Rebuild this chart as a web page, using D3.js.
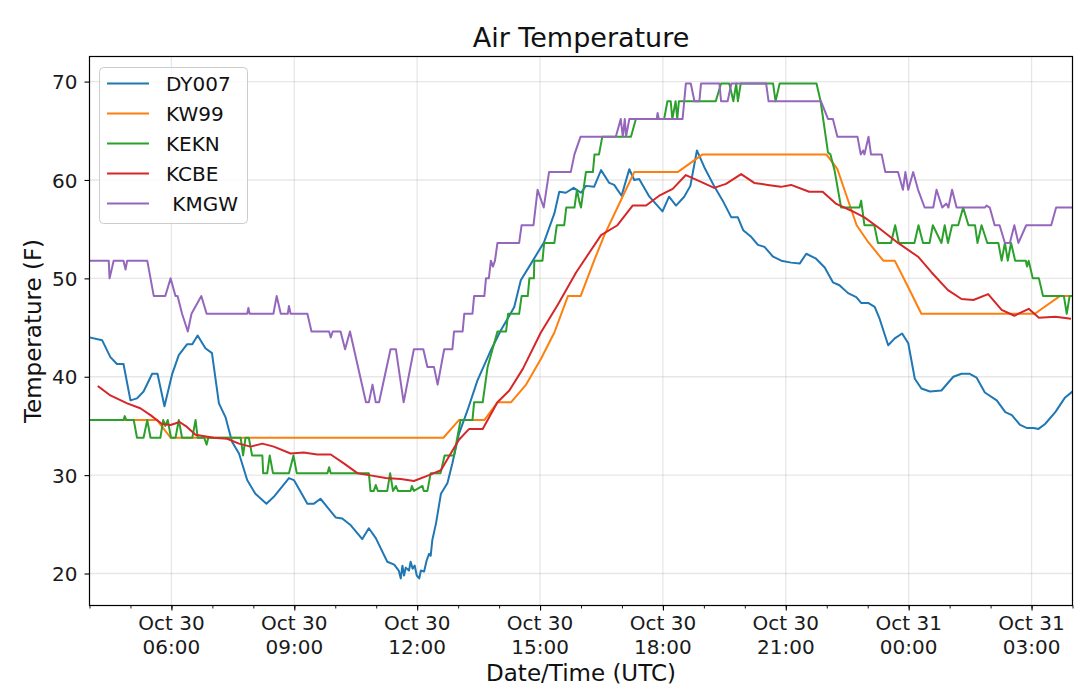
<!DOCTYPE html>
<html>
<head>
<meta charset="utf-8">
<script src="https://cdn.jsdelivr.net/npm/d3@7"></script>
<style>
  html, body { margin: 0; padding: 0; background: #fff; }
  svg { display: block; font-family: "DejaVu Sans", sans-serif; }
</style>
</head>
<body>
<svg id="chart" width="1080" height="700"></svg>
<script>
// ---- DATA (time = hours since 2018-10-30 00:00 UTC, value = °F) ----
const stations = ["DY007", "KW99", "KEKN", "KCBE", " KMGW"];
const yTicks = [20, 30, 40, 50, 60, 70];
const xStartHour = 4, xEndHour = 28;

const DY007 = [[4.00,44.0],[4.31,43.7],[4.51,42.0],[4.67,41.3],[4.83,41.3],[5.00,37.6],[5.16,37.8],[5.32,38.5],[5.53,40.3],[5.66,40.3],[5.83,37.0],[6.02,40.3],[6.18,42.2],[6.38,43.3],[6.51,43.3],[6.64,44.2],[6.83,42.9],[6.99,42.4],[7.16,37.3],[7.32,35.9],[7.48,33.4],[7.65,32.2],[7.85,29.5],[8.05,28.1],[8.32,27.1],[8.50,27.8],[8.87,29.7],[8.99,29.5],[9.32,27.1],[9.48,27.1],[9.64,27.6],[10.01,25.7],[10.17,25.6],[10.38,24.9],[10.66,23.5],[10.82,24.6],[10.99,23.6],[11.27,21.2],[11.44,20.9],[11.55,20.3],[11.60,19.5],[11.64,20.8],[11.68,19.8],[11.72,20.6],[11.80,20.3],[11.84,21.2],[11.89,20.5],[11.94,20.8],[11.99,19.8],[12.05,19.5],[12.09,20.3],[12.17,20.2],[12.23,21.3],[12.29,22.0],[12.33,21.8],[12.37,23.4],[12.46,25.1],[12.58,28.1],[12.74,29.2],[12.86,31.2],[13.02,34.2],[13.23,36.6],[13.47,39.6],[13.80,42.7],[14.04,44.7],[14.25,46.2],[14.37,47.1],[14.53,49.8],[14.78,51.5],[15.10,53.7],[15.35,56.6],[15.47,58.8],[15.63,58.7],[15.82,59.2],[16.00,58.7],[16.12,59.4],[16.32,59.3],[16.49,61.0],[16.69,59.7],[16.81,59.5],[16.99,58.4],[17.18,61.1],[17.30,60.0],[17.42,60.1],[17.67,58.3],[17.99,56.8],[18.15,58.3],[18.32,57.4],[18.52,58.3],[18.67,59.4],[18.83,63.0],[19.01,61.3],[19.26,59.3],[19.46,57.9],[19.67,56.2],[19.83,56.2],[19.96,54.9],[20.16,54.2],[20.32,53.4],[20.48,53.2],[20.69,52.2],[20.89,51.8],[21.13,51.6],[21.34,51.5],[21.50,52.5],[21.74,52.0],[21.95,51.1],[22.15,49.6],[22.31,49.3],[22.52,48.5],[22.72,48.1],[22.84,47.5],[23.01,47.5],[23.17,47.1],[23.29,45.9],[23.50,43.2],[23.66,43.9],[23.84,44.4],[23.99,43.4],[24.15,39.8],[24.31,38.8],[24.52,38.5],[24.80,38.6],[25.09,40.0],[25.29,40.3],[25.49,40.3],[25.66,39.9],[25.86,38.4],[26.15,37.6],[26.36,36.4],[26.52,36.1],[26.72,35.1],[26.88,34.8],[27.05,34.8],[27.17,34.7],[27.33,35.2],[27.58,36.4],[27.82,37.9],[28.00,38.5]];

const KW99 = [[4.00,35.6],[5.65,35.6],[5.98,33.8],[12.64,33.8],[13.02,35.6],[13.64,35.6],[13.96,37.4],[14.29,37.4],[14.66,39.2],[15.02,41.8],[15.35,44.5],[15.68,48.2],[15.99,48.2],[16.32,51.8],[16.57,54.4],[16.89,57.2],[17.30,60.8],[18.36,60.8],[18.97,62.6],[21.99,62.6],[22.26,61.1],[22.44,58.9],[22.73,55.4],[23.01,53.7],[23.38,51.8],[23.66,51.8],[23.99,49.1],[24.31,46.4],[27.08,46.4],[27.69,48.2],[28.00,48.2]];

const KEKN = [[4.00,35.6],[4.83,35.6],[4.86,36.0],[4.90,35.6],[5.08,35.6],[5.16,33.8],[5.32,33.8],[5.41,35.6],[5.49,33.8],[5.73,33.8],[5.80,35.6],[5.85,35.0],[5.91,35.6],[5.99,33.8],[6.10,33.8],[6.18,35.6],[6.26,33.8],[6.51,33.8],[6.59,35.6],[6.64,33.8],[6.80,33.8],[6.86,33.1],[6.90,33.8],[7.69,33.8],[7.75,32.0],[7.81,33.8],[7.89,33.8],[7.97,32.0],[8.22,32.0],[8.24,30.2],[8.34,30.2],[8.40,32.0],[8.48,30.2],[8.87,30.2],[8.98,32.0],[9.06,30.2],[9.81,30.2],[9.85,30.8],[9.89,30.2],[10.82,30.2],[10.86,28.4],[10.94,28.4],[10.99,29.0],[11.04,28.4],[11.27,28.4],[11.34,30.2],[11.41,28.4],[11.48,28.9],[11.53,28.4],[11.84,28.4],[11.87,28.9],[11.92,28.4],[12.13,28.9],[12.16,28.4],[12.25,28.4],[12.33,30.2],[12.57,30.2],[12.67,32.0],[12.90,32.0],[13.06,35.6],[13.35,35.6],[13.39,37.4],[13.60,37.4],[13.72,41.0],[13.96,44.6],[14.17,44.6],[14.22,46.4],[14.49,46.4],[14.55,48.2],[14.70,48.2],[14.74,50.0],[14.85,50.0],[14.86,51.8],[15.06,51.8],[15.10,53.6],[15.35,53.6],[15.41,55.4],[15.59,55.4],[15.64,57.2],[15.84,57.2],[15.90,59.0],[15.96,57.8],[16.00,57.2],[16.12,60.8],[16.29,60.8],[16.33,62.6],[16.44,62.6],[16.52,64.4],[17.22,64.4],[17.34,66.2],[18.03,66.2],[18.11,68.0],[18.19,68.0],[18.23,66.2],[18.31,68.0],[18.35,66.2],[18.39,68.0],[19.29,68.0],[19.42,69.8],[19.62,69.8],[19.72,68.0],[19.79,69.8],[19.83,68.0],[19.90,69.8],[20.69,69.8],[20.75,68.0],[20.85,69.8],[21.75,69.8],[21.85,68.0],[22.03,62.8],[22.09,62.6],[22.19,61.0],[22.35,57.2],[22.80,57.2],[22.84,57.9],[22.92,55.4],[23.16,55.4],[23.25,53.6],[23.57,53.6],[23.67,55.4],[23.76,53.6],[24.14,53.6],[24.24,55.4],[24.35,53.6],[24.51,53.6],[24.59,55.4],[24.80,53.6],[24.88,55.4],[24.96,53.6],[25.06,55.4],[25.21,55.4],[25.33,57.2],[25.46,55.4],[25.62,55.4],[25.68,53.6],[25.78,55.4],[25.92,53.6],[26.19,53.6],[26.27,51.8],[26.35,53.6],[26.42,51.8],[26.50,53.6],[26.60,51.8],[26.86,51.8],[26.89,51.2],[26.93,51.8],[27.03,50.0],[27.18,50.0],[27.28,48.2],[27.79,48.2],[27.86,46.4],[27.93,48.2],[28.00,48.2]];

const KCBE = [[4.22,39.0],[4.51,38.1],[4.92,37.3],[5.24,36.8],[5.49,36.1],[5.77,35.2],[5.98,35.1],[6.20,35.4],[6.38,34.9],[6.59,34.1],[7.03,33.8],[7.36,33.7],[7.65,33.2],[7.93,32.9],[8.22,33.2],[8.50,32.9],[8.91,32.2],[9.23,32.3],[9.56,32.1],[9.89,32.1],[10.21,31.2],[10.54,30.2],[10.82,30.0],[11.23,29.7],[11.60,29.6],[11.92,29.4],[12.29,30.0],[12.58,30.5],[12.82,32.2],[13.02,33.6],[13.27,34.7],[13.60,34.7],[13.96,37.4],[14.25,38.6],[14.58,40.8],[15.02,44.5],[15.43,47.3],[15.88,50.6],[16.49,54.4],[16.89,55.4],[17.26,57.4],[17.59,57.4],[17.91,58.4],[18.24,59.1],[18.56,60.5],[18.93,59.8],[19.25,59.2],[19.54,59.6],[19.91,60.6],[20.23,59.7],[20.56,59.5],[20.88,59.3],[21.13,59.5],[21.57,58.8],[21.90,58.8],[22.22,57.6],[22.59,56.9],[22.92,56.2],[23.25,55.2],[23.74,53.6],[24.23,52.2],[24.56,50.6],[24.96,48.8],[25.29,47.9],[25.58,47.8],[25.94,48.4],[26.27,46.8],[26.58,46.2],[26.93,46.9],[27.18,46.0],[27.58,46.1],[27.94,45.9]];

const KMGW = [[4.00,51.8],[4.47,51.8],[4.49,50.0],[4.59,51.8],[4.83,51.8],[4.88,50.9],[4.92,51.8],[5.41,51.8],[5.57,48.2],[5.85,48.2],[5.98,50.0],[6.10,48.2],[6.15,48.2],[6.26,46.4],[6.40,44.6],[6.49,46.4],[6.73,48.2],[6.86,46.4],[7.85,46.4],[7.88,47.0],[7.91,46.4],[8.49,46.4],[8.57,48.2],[8.67,46.4],[8.84,46.4],[8.87,47.2],[8.91,46.4],[9.32,46.4],[9.42,44.6],[9.85,44.6],[9.89,44.0],[9.94,44.6],[10.13,44.6],[10.24,42.8],[10.36,44.6],[10.75,37.4],[10.82,37.4],[10.91,39.2],[10.99,37.4],[11.07,37.4],[11.35,42.8],[11.48,42.8],[11.67,37.4],[11.92,42.8],[12.15,42.8],[12.25,41.0],[12.41,41.0],[12.50,39.2],[12.66,42.8],[12.86,42.8],[12.90,44.6],[13.11,44.6],[13.15,46.4],[13.35,46.4],[13.39,48.2],[13.64,48.2],[13.68,50.0],[13.75,50.0],[13.80,51.8],[13.85,51.2],[13.90,51.8],[13.96,53.6],[14.49,53.6],[14.55,55.4],[14.84,55.4],[14.94,59.0],[15.09,57.2],[15.22,60.8],[15.75,60.8],[15.84,62.6],[15.99,64.4],[16.85,64.4],[16.97,66.2],[17.02,64.4],[17.07,66.2],[17.10,64.4],[17.18,66.2],[17.85,66.2],[17.87,66.8],[17.90,66.2],[18.48,66.2],[18.56,69.8],[18.68,69.8],[18.77,68.0],[18.89,68.0],[18.93,69.8],[19.38,69.8],[19.42,68.0],[19.58,68.0],[19.67,69.8],[20.52,69.8],[20.58,68.0],[21.86,68.0],[22.03,66.2],[22.15,66.2],[22.26,64.4],[22.75,64.4],[22.83,62.6],[22.89,63.0],[22.92,62.6],[23.02,64.4],[23.08,62.6],[23.34,62.6],[23.43,60.8],[23.74,60.8],[23.86,59.0],[23.92,60.8],[23.99,59.0],[24.11,60.8],[24.23,59.0],[24.39,57.2],[24.60,57.2],[24.68,59.0],[24.82,57.2],[24.92,57.6],[24.97,57.2],[25.06,59.0],[25.17,57.2],[25.86,57.2],[25.90,57.4],[25.98,57.2],[26.10,55.4],[26.22,55.4],[26.35,53.6],[26.47,53.6],[26.58,55.4],[26.68,53.6],[26.87,55.4],[27.48,55.4],[27.60,57.2],[28.00,57.2]];

const seriesData = [DY007, KW99, KEKN, KCBE, KMGW];

// ---- DRAWING ----
const colors = ["#1f77b4", "#ff7f0e", "#2ca02c", "#d62728", "#9467bd"];
const baseMs = Date.UTC(2018, 9, 30, 0, 0);
const toDate = h => new Date(baseMs + h * 3600e3);

const svg = d3.select("#chart");
svg.append("rect").attr("width", 1080).attr("height", 700).attr("fill", "#fff");

const L = 89.5, R = 1072.5, T = 56.5, B = 605.5;
const x = d3.scaleUtc().domain([toDate(xStartHour), toDate(xEndHour)]).range([L, R]);
const y = d3.scaleLinear().domain([16.75, 72.55]).range([B, T]);

const majorTicks = d3.range(6, 28, 3).map(toDate);
const minorTicks = d3.range(xStartHour, xEndHour + 1, 1).map(toDate);

// grid
const grid = svg.append("g").attr("class", "grid");
grid.selectAll("line.gx").data(majorTicks).join("line")
  .attr("x1", d => x(d)).attr("x2", d => x(d)).attr("y1", T).attr("y2", B)
  .attr("stroke", "#b0b0b0").attr("stroke-opacity", 0.3).attr("stroke-width", 1.3);
grid.selectAll("line.gy").data(yTicks).join("line")
  .attr("x1", L).attr("x2", R).attr("y1", d => y(d)).attr("y2", d => y(d))
  .attr("stroke", "#b0b0b0").attr("stroke-opacity", 0.3).attr("stroke-width", 1.3);

// lines
const clipId = "plotclip";
svg.append("clipPath").attr("id", clipId).append("rect")
  .attr("x", L).attr("y", T).attr("width", R - L).attr("height", B - T);
const line = d3.line().x(d => x(toDate(d[0]))).y(d => y(d[1]));
const lines = svg.append("g").attr("clip-path", `url(#${clipId})`);
seriesData.forEach((s, i) => {
  lines.append("path").datum(s).attr("d", line)
    .attr("fill", "none").attr("stroke", colors[i]).attr("stroke-width", 2)
    .attr("stroke-linejoin", "round").attr("stroke-linecap", "square");
});

// axes
const fmtDay = d3.utcFormat("%b %d");
const fmtTime = d3.utcFormat("%H:%M");
const xAxis = svg.append("g").attr("transform", `translate(0,${B})`)
  .call(d3.axisBottom(x).tickValues(majorTicks).tickSize(5).tickSizeOuter(0).tickFormat(""));
xAxis.select(".domain").remove();
xAxis.selectAll(".tick line").attr("stroke", "#000").attr("stroke-width", 1.1);
const xMinor = svg.append("g").attr("transform", `translate(0,${B})`)
  .call(d3.axisBottom(x).tickValues(minorTicks).tickSize(3).tickSizeOuter(0).tickFormat(""));
xMinor.select(".domain").remove();
xMinor.selectAll(".tick line").attr("stroke", "#000").attr("stroke-width", 0.9);

const xl = svg.append("g");
majorTicks.forEach(d => {
  const t = xl.append("text").attr("x", x(d)).attr("text-anchor", "middle")
    .attr("font-size", 20).attr("fill", "#1a1a1a");
  t.append("tspan").attr("x", x(d)).attr("y", 630).text(fmtDay(d));
  t.append("tspan").attr("x", x(d)).attr("y", 653.5).text(fmtTime(d));
});

const yAxis = svg.append("g").attr("transform", `translate(${L},0)`)
  .call(d3.axisLeft(y).tickValues(yTicks).tickSize(5).tickSizeOuter(0).tickPadding(7).tickFormat(d3.format("d")));
yAxis.select(".domain").remove();
yAxis.selectAll(".tick line").attr("stroke", "#000").attr("stroke-width", 1.1);
yAxis.selectAll(".tick text").attr("font-size", 20).attr("fill", "#1a1a1a")
  .attr("font-family", "DejaVu Sans").attr("dy", "0.36em");

// frame
svg.append("rect").attr("x", L).attr("y", T).attr("width", R - L).attr("height", B - T)
  .attr("fill", "none").attr("stroke", "#000").attr("stroke-width", 1.2);

// titles
svg.append("text").attr("x", (L + R) / 2).attr("y", 47).attr("text-anchor", "middle")
  .attr("font-size", 27).attr("fill", "#111").text("Air Temperature");
svg.append("text").attr("x", (L + R) / 2).attr("y", 681).attr("text-anchor", "middle")
  .attr("font-size", 23).attr("fill", "#111").text("Date/Time (UTC)");
svg.append("text").attr("transform", `translate(41,${(T + B) / 2}) rotate(-90)`)
  .attr("text-anchor", "middle").attr("font-size", 23).attr("fill", "#111").text("Temperature (F)");

// legend
const lg = svg.append("g");
lg.append("rect").attr("x", 99.5).attr("y", 67.5).attr("width", 148).attr("height", 156)
  .attr("rx", 4).attr("fill", "#fff").attr("fill-opacity", 0.8)
  .attr("stroke", "#cccccc").attr("stroke-width", 1);
stations.forEach((name, i) => {
  const yy = 83.5 + i * 30;
  lg.append("line").attr("x1", 107).attr("x2", 149).attr("y1", yy).attr("y2", yy)
    .attr("stroke", colors[i]).attr("stroke-width", 2);
  lg.append("text").attr("x", 166).attr("y", yy).attr("dy", "0.36em")
    .attr("font-size", 20).attr("fill", "#111")
    .attr("xml:space", "preserve").style("white-space", "pre").text(name);
});
</script>
</body>
</html>
